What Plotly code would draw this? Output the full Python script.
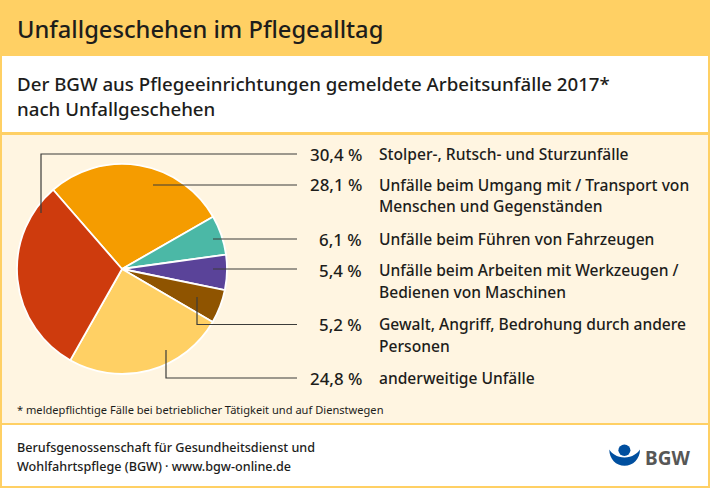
import plotly.graph_objects as go

W, H = 710, 488
FONT = "Noto Sans"
INK = "#1d1d1b"

categories = [
    "Unfälle beim Umgang mit / Transport von<br>Menschen und Gegenständen",
    "Unfälle beim Führen von Fahrzeugen",
    "Unfälle beim Arbeiten mit Werkzeugen /<br>Bedienen von Maschinen",
    "Gewalt, Angriff, Bedrohung durch andere<br>Personen",
    "anderweitige Unfälle",
    "Stolper-, Rutsch- und Sturzunfälle",
]
values = [28.1, 6.1, 5.4, 5.2, 24.8, 30.4]
value_labels = ["28,1 %", "6,1 %", "5,4 %", "5,2 %", "24,8 %", "30,4 %"]
colors = ["#F59C00", "#4BB8A6", "#5A4399", "#8F5400", "#FFD064", "#CE3B0D"]

# reading order of the legend column, with the vertical centre of its first line
legend_order = [5, 0, 1, 2, 3, 4]
value_y = [154, 185, 239, 270, 324, 378]
LINE_STEP = 21.5


def px(x):
    return x / W


def py(y):
    return 1 - y / H


def rect(x0, y0, x1, y1, color):
    return dict(type="rect", xref="paper", yref="paper", layer="below",
                x0=px(x0), x1=px(x1), y0=py(y0), y1=py(y1),
                fillcolor=color, line_width=0)


def poly(points, color="#3c3c3a", width=1.2):
    p = "M " + " L ".join(f"{px(a):.5f} {py(b):.5f}" for a, b in points)
    return dict(type="path", xref="paper", yref="paper", layer="above", path=p,
                line=dict(color=color, width=width))


shapes = [
    rect(0, 0, W, H, "#FFD064"),
    rect(2, 56, W - 2, 132, "#FFFFFF"),
    rect(2, 135, W - 2, 423, "#FFF5E1"),
    rect(2, 425, W - 2, 486, "#FFFFFF"),
    poly([(297, 154), (41, 154), (41, 213)]),
    poly([(297, 185), (153, 185)]),
    poly([(297, 239), (213, 239)]),
    poly([(297, 269), (213, 269)]),
    poly([(297, 324.5), (197, 324.5), (197, 297)]),
    poly([(297, 378), (166, 378), (166, 350)]),
]


# BGW logo: bowl and dot
def P(x, y):
    return f"{px(x):.5f} {py(y):.5f}"


bowl = (f"M {P(609.3, 449.5)} C {P(611, 453)} {P(617, 457.5)} {P(624.6, 457.5)} "
        f"C {P(632, 457.5)} {P(638, 453)} {P(640, 449.5)} "
        f"C {P(640, 459)} {P(633, 465.8)} {P(624.6, 465.8)} "
        f"C {P(616, 465.8)} {P(609.3, 459)} {P(609.3, 449.5)} Z")
shapes.append(dict(type="path", xref="paper", yref="paper", path=bowl,
                   fillcolor="#004F9F", line_width=0))
shapes.append(dict(type="circle", xref="paper", yref="paper",
                   x0=px(618.4), x1=px(630.4), y0=py(456), y1=py(444.5),
                   fillcolor="#004F9F", line_width=0))


def label(x, y, text, size=15, anchor="left", color=INK, weight=500):
    return dict(xref="paper", yref="paper", x=px(x), y=py(y), text=text,
                showarrow=False, xanchor=anchor, yanchor="middle", align=anchor,
                font=dict(family=FONT, size=size, color=color, weight=weight),
                borderpad=0, borderwidth=0)


annotations = [
    label(17, 29, "Unfallgeschehen im Pflegealltag", 23.7),
    label(17, 84, "Der BGW aus Pflegeeinrichtungen gemeldete Arbeitsunfälle 2017*", 18.7),
    label(17, 108, "nach Unfallgeschehen", 18.7),
    label(17, 409, "* meldepflichtige Fälle bei betrieblicher Tätigkeit und auf Dienstwegen", 11.1, weight=400),
    label(17, 447, "Berufsgenossenschaft für Gesundheitsdienst und", 12.6),
    label(17, 466, "Wohlfahrtspflege (BGW) · www.bgw-online.de", 12.6),
    label(645, 457.5, "<b>BGW</b>", 19, color="#575756", weight=700),
]
for i, vy in zip(legend_order, value_y):
    annotations.append(label(362, vy, value_labels[i], 16.9, anchor="right"))
    for n, line in enumerate(categories[i].split("<br>")):
        annotations.append(label(379, vy + n * LINE_STEP, line, 15.6))

cx, cy, r = 122, 269, 105
fig = go.Figure(go.Pie(
    values=values,
    labels=[c.replace("<br>", " ") for c in categories],
    sort=False,
    direction="clockwise",
    rotation=319,
    textinfo="none",
    hoverinfo="label+percent",
    showlegend=False,
    marker=dict(colors=colors, line=dict(color="#FFFFFF", width=1.8)),
    domain=dict(x=[px(cx - r), px(cx + r)], y=[py(cy + r), py(cy - r)]),
))
fig.update_layout(
    width=W, height=H, margin=dict(l=0, r=0, t=0, b=0),
    paper_bgcolor="#FFFFFF", shapes=shapes, annotations=annotations,
    font=dict(family=FONT),
)
fig.write_html("out.html", config={"displayModeBar": False},
               post_script="document.body.style.margin='0';")
